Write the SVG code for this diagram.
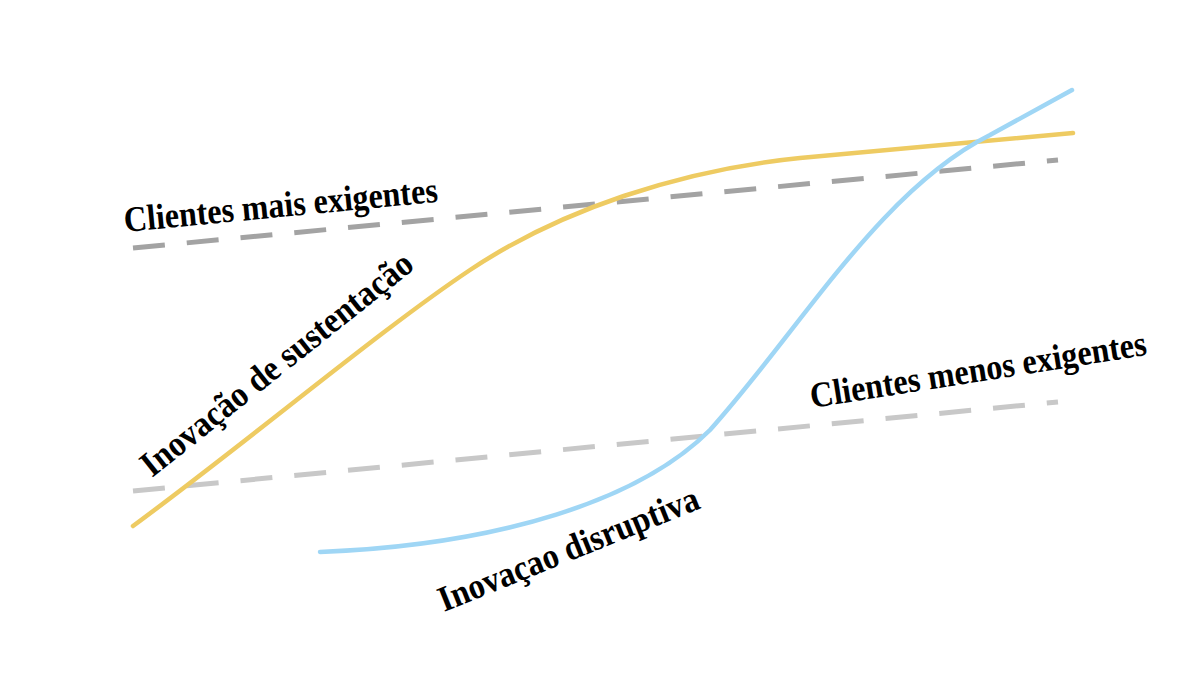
<svg xmlns="http://www.w3.org/2000/svg" width="1200" height="676" viewBox="0 0 1200 676">
<style>
.t{font-family:"Liberation Serif",serif;font-weight:bold;font-size:36px;fill:#000}
.d{fill:none;stroke-width:5;stroke-dasharray:32 22}
.c{fill:none;stroke-width:4.5;stroke-linecap:round}
</style>
<rect width="1200" height="676" fill="#fff"/>
<g id="connectors">
<path class="d" stroke="#a3a3a3" d="M133,248 L1058,160"/>
<path class="d" stroke="#c8c8c8" d="M133,491 L1058,402"/>
<path class="c" stroke="#eecb62" d="M133,526 C250,440 380,330 470,270 C560,210 680,170 800,158 C900,148 1000,140 1073,133"/>
<path class="c" stroke="#9fd6f5" d="M320,552 C500,545 640,500 710,430 C800,330 880,190 990,135 L1072,90"/>
</g>
<g id="n1"><text class="t" transform="translate(125,232) rotate(-5.5)" textLength="315" lengthAdjust="spacingAndGlyphs">Clientes mais exigentes</text></g>
<g id="n2"><text class="t" transform="translate(152,478) rotate(-38.5)" textLength="337" lengthAdjust="spacingAndGlyphs">Inovação de sustentação</text></g>
<g id="n3"><text class="t" transform="translate(812,408) rotate(-9)" textLength="340" lengthAdjust="spacingAndGlyphs">Clientes menos exigentes</text></g>
<g id="n4"><text class="t" transform="translate(444,612) rotate(-22)" textLength="278" lengthAdjust="spacingAndGlyphs">Inovaçao disruptiva</text></g>
</svg>
